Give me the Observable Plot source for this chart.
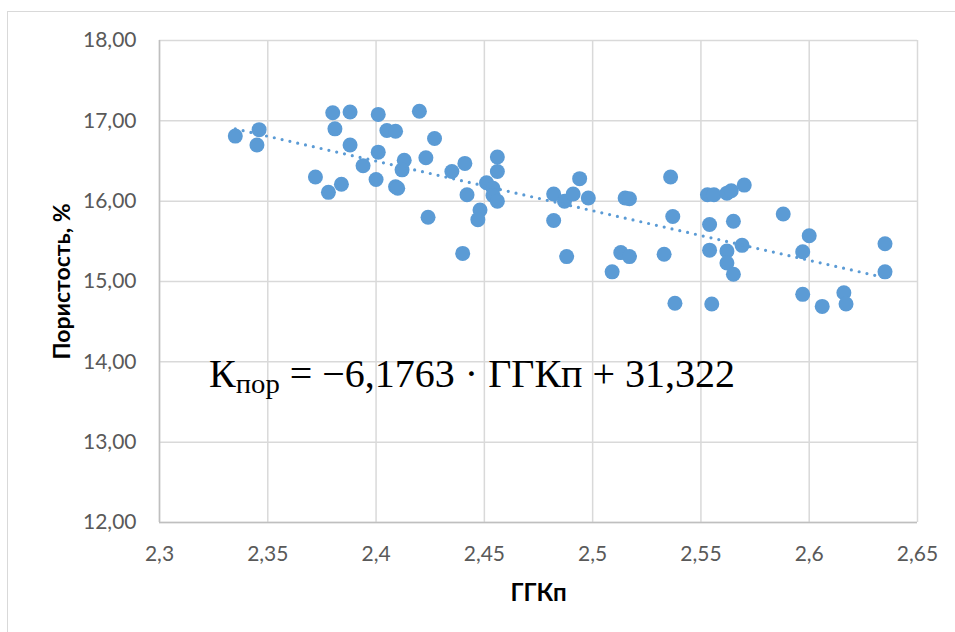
<!DOCTYPE html>
<html>
<head>
<meta charset="utf-8">
<script src="https://cdn.jsdelivr.net/npm/d3@7"></script>
<script src="https://cdn.jsdelivr.net/npm/@observablehq/plot@0.6"></script>
<style>
  html, body { margin: 0; padding: 0; background: #fff; overflow: hidden; }
  #wrap { position: relative; width: 955px; height: 632px; overflow: hidden; }
  #border { position: absolute; left: 7px; top: 11px; width: 1200px; height: 900px; border: 1.3px solid #d9d9d9; box-sizing: border-box; }
  #chart { position: absolute; left: 0; top: 0; }
</style>
</head>
<body>
<div id="wrap"><div id="border"></div><div id="chart"></div></div>
<script>
// Data
const ggkp = [2.335,2.346,2.345,2.380,2.388,2.381,2.388,2.401,2.405,2.409,2.420,2.401,2.413,2.412,2.394,2.372,2.384,2.378,2.400,2.409,2.410,
  2.427,2.423,2.435,2.441,2.442,2.424,2.448,2.447,2.440,2.456,2.456,2.451,2.454,2.454,2.456,
  2.482,2.487,2.491,2.494,2.498,2.482,2.488,2.515,2.517,2.513,2.517,2.509,
  2.536,2.537,2.533,2.538,2.553,2.556,2.562,2.564,2.570,2.554,2.565,2.554,2.562,2.569,2.562,2.565,2.555,
  2.588,2.600,2.597,2.597,2.606,2.616,2.617,2.635,2.635];
const porosity = [16.81,16.89,16.70,17.10,17.11,16.90,16.70,17.08,16.88,16.87,17.12,16.61,16.51,16.39,16.44,16.30,16.21,16.11,16.27,16.18,16.16,
  16.78,16.54,16.37,16.47,16.08,15.80,15.89,15.77,15.35,16.55,16.37,16.23,16.16,16.07,16.00,
  16.09,16.00,16.09,16.28,16.04,15.76,15.31,16.04,16.03,15.36,15.31,15.12,
  16.30,15.81,15.34,14.73,16.08,16.08,16.10,16.13,16.20,15.71,15.75,15.39,15.38,15.45,15.23,15.09,14.72,
  15.84,15.57,15.37,14.84,14.69,14.86,14.72,15.47,15.12];
const trendSlope = -6.1763;
const trendIntercept = 31.322;
const xTicks = [2.3, 2.35, 2.4, 2.45, 2.5, 2.55, 2.6, 2.65];
const yTicks = [12, 13, 14, 15, 16, 17, 18];
const xTitle = "ГГКп";
const yTitle = "Пористость, %";

const points = ggkp.map((x, i) => ({x, y: porosity[i]}));
const xMin = d3.min(ggkp), xMax = d3.max(ggkp);
const trend = [xMin, xMax].map(x => ({x, y: trendSlope * x + trendIntercept}));

const blue = "#5b9bd5";
const fmt = d => String(d).replace(".", ",");

const plot = Plot.plot({
  width: 955,
  height: 632,
  marginLeft: 159,
  marginRight: 38,
  marginTop: 40,
  marginBottom: 110,
  style: {fontFamily: "Lato, sans-serif", fontSize: "21px", color: "#595959", background: "transparent"},
  x: {domain: [2.3, 2.65]},
  y: {domain: [12, 18]},
  marks: [
    Plot.gridX(xTicks, {stroke: "#d9d9d9", strokeOpacity: 1, strokeWidth: 1.5}),
    Plot.gridY(yTicks, {stroke: "#d9d9d9", strokeOpacity: 1, strokeWidth: 1.5}),
    Plot.ruleX([2.3], {stroke: "#bfbfbf", strokeWidth: 1.5}),
    Plot.ruleY([12], {stroke: "#bfbfbf", strokeWidth: 1.5}),
    Plot.axisX({ticks: xTicks, tickSize: 0, tickPadding: 24, tickFormat: d => fmt(d), label: null, fill: "#595959", fontSize: 21}),
    Plot.axisY({ticks: yTicks, tickSize: 0, tickPadding: 23, tickFormat: d => d.toFixed(2).replace(".", ","), label: null, fill: "#595959", fontSize: 21}),
    Plot.dot(points, {x: "x", y: "y", r: 7.5, fill: blue, stroke: null}),
    Plot.line(trend, {x: "x", y: "y", stroke: blue, strokeWidth: 3.2, strokeDasharray: "0 8", strokeLinecap: "round"}),
    Plot.text([xTitle], {text: d => d, frameAnchor: "bottom", dy: 71, lineAnchor: "middle", textAnchor: "middle", fontWeight: "bold", fill: "#000", fontSize: 24}),
    Plot.text([yTitle], {text: d => d, frameAnchor: "left", dx: -97, rotate: -90, lineAnchor: "middle", textAnchor: "middle", fontWeight: "bold", fill: "#000", fontSize: 23})
  ]
});

document.getElementById("chart").appendChild(plot);

// Equation annotation (with subscript), anchored through the plot scales
const sx = plot.scale("x"), sy = plot.scale("y");
const svg = d3.select(plot);
const eq = svg.append("text")
  .attr("x", sx.apply(2.3) + 50)
  .attr("y", sy.apply(14) + 26)
  .attr("text-anchor", "start")
  .attr("font-family", "'Liberation Serif', 'DejaVu Serif', serif")
  .attr("font-size", 39)
  .attr("fill", "#000")
  .attr("textLength", 526)
  .attr("lengthAdjust", "spacingAndGlyphs");
eq.append("tspan").text("К");
eq.append("tspan").attr("font-size", 28).attr("dy", 6).text("пор");
eq.append("tspan").attr("dy", -6).text(" = −6,1763 · ГГКп + 31,322");
</script>
</body>
</html>
